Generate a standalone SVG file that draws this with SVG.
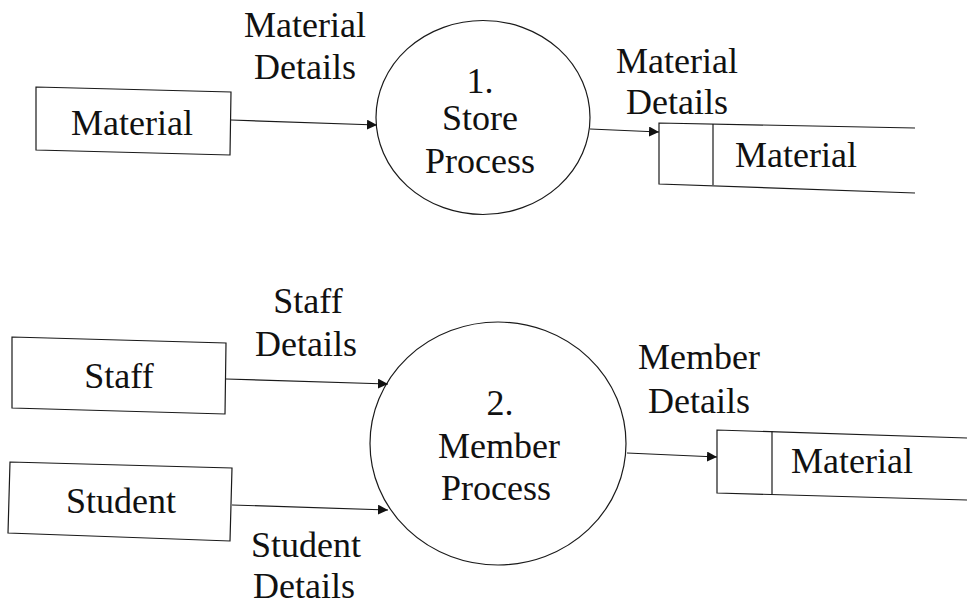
<svg xmlns="http://www.w3.org/2000/svg" width="967" height="608" viewBox="0 0 967 608">
  <style>
    .shape { fill: none; stroke: #1a1a1a; stroke-width: 1.2; }
    .flow { fill: none; stroke: #1a1a1a; stroke-width: 1.2; marker-end: url(#arrow); }
    .lbl { font-size: 36px; fill: #111; text-anchor: middle; }
  </style>
  <defs>
    <marker id="arrow" viewBox="0 0 10 10" refX="10" refY="5" markerWidth="10" markerHeight="10" markerUnits="userSpaceOnUse" orient="auto">
      <path d="M0,0 L10,5 L0,10 Z" fill="#111"/>
    </marker>
  </defs>

  <rect width="967" height="608" fill="#fff"/>

  <g font-family="Liberation Serif, serif">
  <!-- External entity: Material -->
  <g id="entity-material">
    <path class="shape" d="M36,87 L231,92 L230,155 L36,150 Z"/>
    <text class="lbl" x="132" y="135">Material</text>
  </g>

  <!-- Process 1 -->
  <g id="process-store">
    <ellipse class="shape" cx="483" cy="117.5" rx="107" ry="97"/>
    <text class="lbl" x="480" y="93">1.</text>
    <text class="lbl" x="480" y="130">Store</text>
    <text class="lbl" x="480" y="173">Process</text>
  </g>

  <!-- Data store: Material (top) -->
  <g id="store-material-1">
    <path class="shape" d="M915,128 L659,123 L659,184 L915,193"/>
    <line class="shape" x1="713" y1="124" x2="713" y2="185"/>
    <text class="lbl" x="796" y="167">Material</text>
  </g>

  <!-- External entity: Staff -->
  <g id="entity-staff">
    <path class="shape" d="M12,337 L226,343 L225,414 L12,408 Z"/>
    <text class="lbl" x="119" y="388">Staff</text>
  </g>

  <!-- External entity: Student -->
  <g id="entity-student">
    <path class="shape" d="M10,462 L232,468 L230,541 L8,533 Z"/>
    <text class="lbl" x="121" y="513">Student</text>
  </g>

  <!-- Process 2 -->
  <g id="process-member">
    <ellipse class="shape" cx="498" cy="443.5" rx="128" ry="121.5"/>
    <text class="lbl" x="500" y="415">2.</text>
    <text class="lbl" x="499" y="458">Member</text>
    <text class="lbl" x="496" y="500">Process</text>
  </g>

  <!-- Data store: Material (bottom) -->
  <g id="store-material-2">
    <path class="shape" d="M967,438 L717,430 L717,493 L967,500"/>
    <line class="shape" x1="772" y1="431" x2="772" y2="494"/>
    <text class="lbl" x="852" y="473">Material</text>
  </g>

  <!-- Data flows -->
  <g id="flows">
    <path class="flow" d="M231,120 L377,125"/>
    <path class="flow" d="M590,129 L659,132"/>
    <path class="flow" d="M226,379 L388,384"/>
    <path class="flow" d="M232,505 L388,510"/>
    <path class="flow" d="M627,453 L717,457"/>

    <text class="lbl" x="305" y="37">Material</text>
    <text class="lbl" x="305" y="79">Details</text>

    <text class="lbl" x="677" y="73">Material</text>
    <text class="lbl" x="677" y="114">Details</text>

    <text class="lbl" x="308" y="313">Staff</text>
    <text class="lbl" x="306" y="356">Details</text>

    <text class="lbl" x="306" y="557">Student</text>
    <text class="lbl" x="304" y="598">Details</text>

    <text class="lbl" x="699" y="369">Member</text>
    <text class="lbl" x="699" y="413">Details</text>
  </g>
  </g>
</svg>
